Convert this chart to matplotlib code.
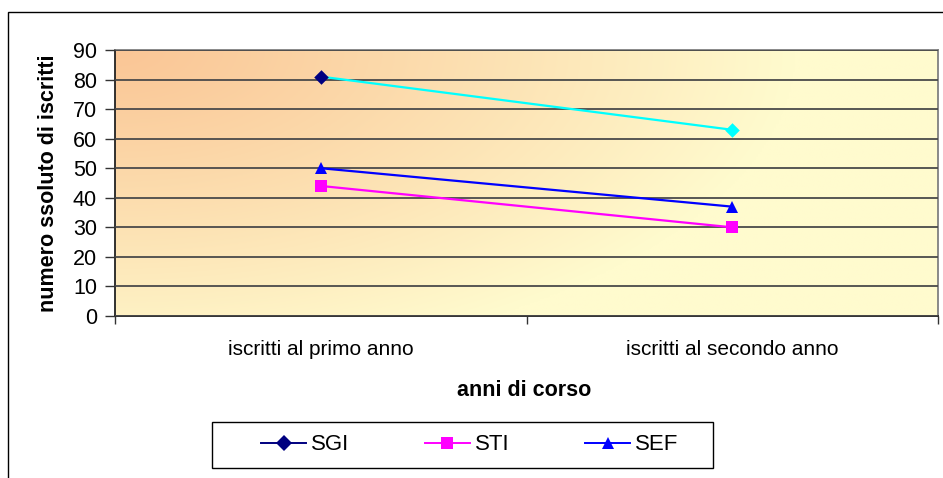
import numpy as np
import matplotlib
matplotlib.use('Agg')
import matplotlib.pyplot as plt
from matplotlib.lines import Line2D
from matplotlib.patches import Rectangle

plt.rcParams['font.family'] = ['Liberation Sans', 'DejaVu Sans']

# Dati
categorie = ['iscritti al primo anno', 'iscritti al secondo anno']
sgi = [81, 63]
sti = [44, 30]
sef = [50, 37]
y_ticks = list(range(0, 100, 10))

fig = plt.figure(figsize=(9.43, 4.78), dpi=100)
W, H = 943, 478

# bordo esterno del grafico (tagliato a destra e in basso)
fig.patches.append(Rectangle((8 / W, -0.1), 1.2, 1 - 12 / H + 0.1,
                             transform=fig.transFigure, fill=False,
                             edgecolor='#000000', linewidth=1.0))

ax = fig.add_axes([115 / W, 1 - 316 / H, 823 / W, 266 / H])

# sfondo sfumato (arancio in alto a sinistra -> giallo chiaro)
ny, nx = 200, 400
px = np.linspace(0, 823, nx)
py = np.linspace(0, 266, ny)
PX, PY = np.meshgrid(px, py)
d = np.clip(np.sqrt((PX / 680) ** 2 + (PY / 320) ** 2), 0, 1) ** 1.1
c0 = np.array([250, 198, 150]) / 255
c1 = np.array([255, 251, 206]) / 255
img = c0[None, None, :] * (1 - d[..., None]) + c1[None, None, :] * d[..., None]
ax.imshow(img, extent=[0, 2, 0, 90], aspect='auto', zorder=0, origin='upper')

x = np.array([0.5, 1.5])

# SGI: linea ciano, primo marker blu scuro
ax.plot(x, sgi, color='#00FFFF', linewidth=1.6, zorder=3)
ax.scatter(x[:1], sgi[:1], marker='D', s=55, color='#000080', zorder=4, linewidths=0)
ax.scatter(x[1:], sgi[1:], marker='D', s=55, color='#00FFFF', zorder=4, linewidths=0)
ax.plot(x, sti, color='#FF00FF', linewidth=1.6, marker='s', markersize=8,
        markeredgewidth=0, zorder=3)
ax.plot(x, sef, color='#0000FF', linewidth=1.6, marker='^', markersize=9,
        markeredgewidth=0, zorder=3)

ax.set_xlim(0, 2)
ax.set_ylim(0, 90)
ax.set_yticks(y_ticks)
ax.yaxis.grid(True, color='#4a4a4a', linewidth=1.3, zorder=1)
ax.set_axisbelow(False)
for gl in ax.get_ygridlines():
    gl.set_zorder(1)

ax.set_xticks([0, 1, 2])
ax.set_xticklabels([])
ax.set_xticks(x, minor=True)
ax.set_xticklabels(categorie, minor=True)
ax.tick_params(axis='x', which='major', length=6, width=1, color='#333333', direction='out')
ax.tick_params(axis='x', which='minor', length=0, pad=17, labelsize=15)
ax.tick_params(axis='y', length=7, width=1, color='#333333', direction='out',
               pad=6, labelsize=15.5)

for side in ['left', 'bottom']:
    ax.spines[side].set_color('#222222')
    ax.spines[side].set_linewidth(1.3)
for side in ['top', 'right']:
    ax.spines[side].set_color('#808080')
    ax.spines[side].set_linewidth(1.3)

ax.set_ylabel('numero ssoluto di iscritti', fontsize=15.5, fontweight='bold', labelpad=10)
fig.text(524 / W, 1 - 391 / H, 'anni di corso', fontsize=15.5, fontweight='bold',
         ha='center', va='center')

# legenda con riquadro disegnato a parte
fig.patches.append(Rectangle((212 / W, 1 - 468 / H), 501 / W, 46 / H,
                             transform=fig.transFigure, fill=False,
                             edgecolor='#000000', linewidth=1.0))
handles = [
    Line2D([], [], color='#000080', marker='D', markersize=8, linewidth=1.4, markeredgewidth=0),
    Line2D([], [], color='#FF00FF', marker='s', markersize=8, linewidth=1.4, markeredgewidth=0),
    Line2D([], [], color='#0000FF', marker='^', markersize=9, linewidth=1.4, markeredgewidth=0),
]
leg = fig.legend(handles, ['SGI', 'STI', 'SEF'], ncol=3, loc='center',
                 bbox_to_anchor=(470 / W, 1 - 445 / H), fontsize=16,
                 frameon=False, columnspacing=3.4, handlelength=2.0,
                 handletextpad=0.25, borderpad=0, borderaxespad=0)

fig.savefig('out.png', dpi=100)
